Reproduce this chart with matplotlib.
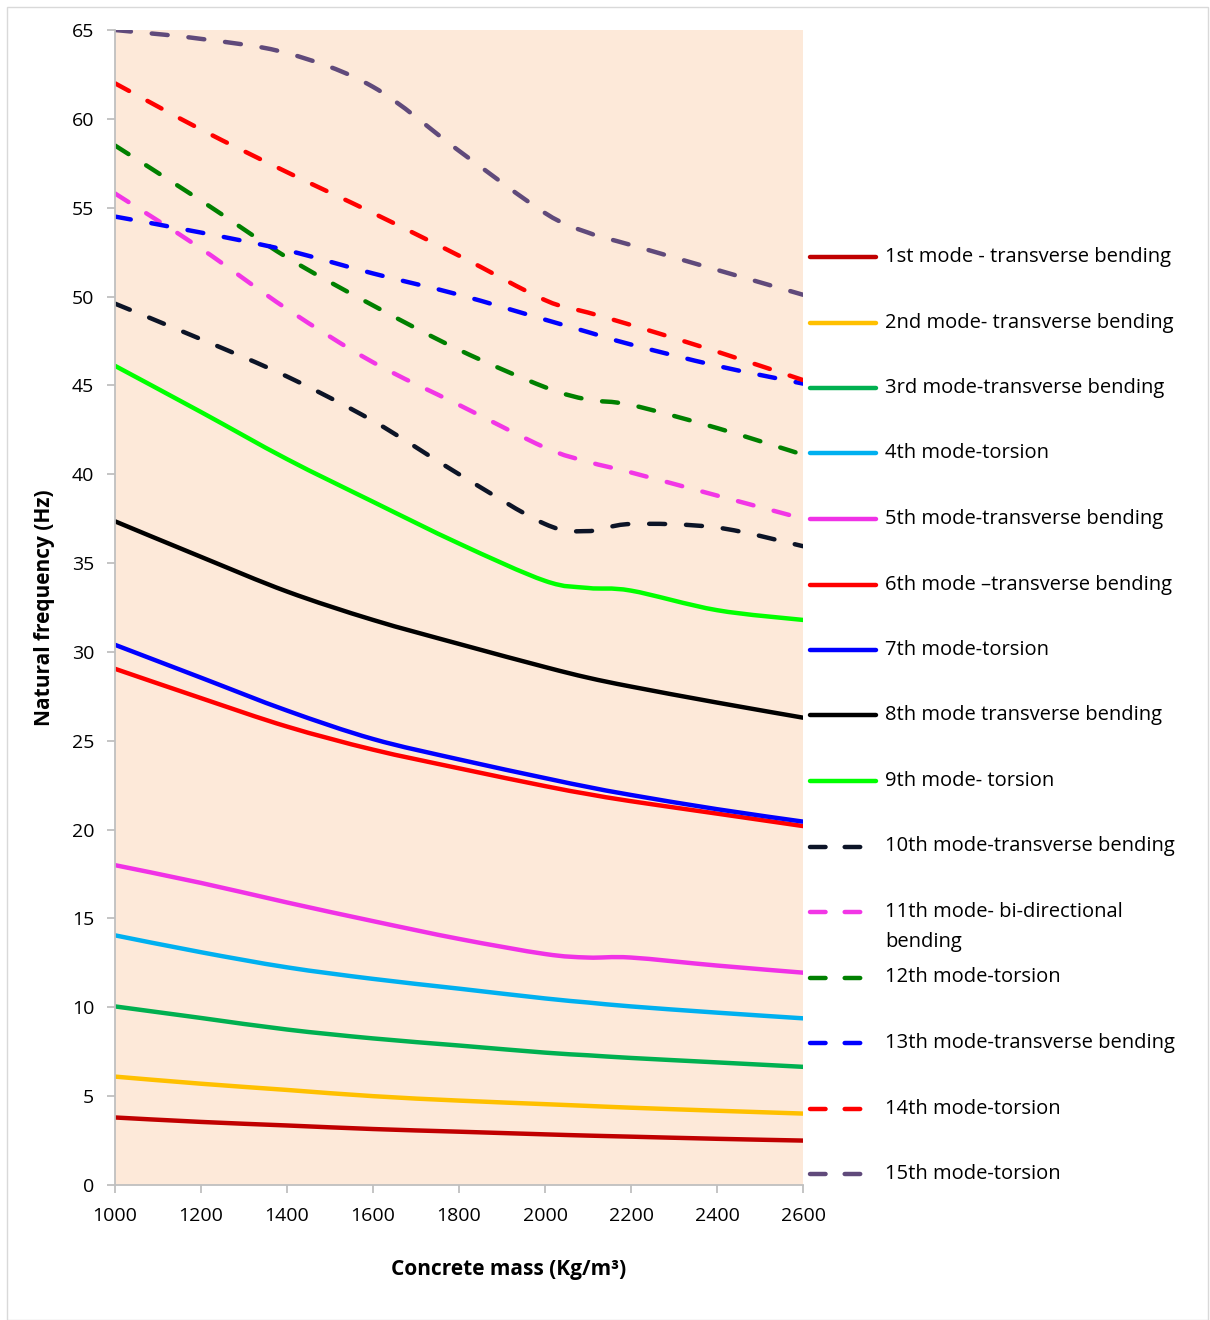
import matplotlib.pyplot as plt
import numpy as np
from matplotlib.path import Path
from matplotlib.patches import PathPatch, Rectangle
from matplotlib.lines import Line2D

plt.rcParams['font.family'] = ['Open Sans', 'DejaVu Sans']

# concrete mass (kg/m3)
mass = [1000, 1200, 1400, 1600, 1800, 2000, 2100, 2200, 2400, 2600]

mode1 = [3.8, 3.55, 3.35, 3.15, 3.0, 2.85, 2.78, 2.72, 2.6, 2.5]
mode2 = [6.1, 5.7, 5.35, 5.0, 4.75, 4.55, 4.45, 4.35, 4.18, 4.02]
mode3 = [10.05, 9.4, 8.75, 8.25, 7.85, 7.45, 7.3, 7.15, 6.9, 6.65]
mode4 = [14.05, 13.1, 12.25, 11.6, 11.05, 10.5, 10.27, 10.05, 9.7, 9.38]
mode5 = [18.0, 17.0, 15.9, 14.85, 13.85, 13.0, 12.8, 12.8, 12.35, 11.95]
mode6 = [29.05, 27.4, 25.8, 24.5, 23.45, 22.45, 22.0, 21.6, 20.9, 20.2]
mode7 = [30.4, 28.55, 26.7, 25.1, 23.95, 22.9, 22.4, 21.95, 21.15, 20.45]
mode8 = [37.35, 35.35, 33.4, 31.8, 30.45, 29.15, 28.55, 28.05, 27.15, 26.3]
mode9 = [46.1, 43.5, 40.85, 38.45, 36.1, 34.0, 33.6, 33.45, 32.35, 31.8]
mode10 = [49.6, 47.6, 45.5, 43.0, 40.0, 37.2, 36.8, 37.2, 37.0, 35.95]
mode11 = [55.8, 52.7, 49.3, 46.3, 43.9, 41.5, 40.7, 40.1, 38.8, 37.5]
mode12 = [58.5, 55.4, 52.2, 49.5, 47.0, 44.9, 44.2, 43.9, 42.6, 41.1]
mode13 = [54.5, 53.6, 52.6, 51.3, 50.1, 48.7, 48.0, 47.3, 46.1, 45.1]
mode14 = [62.0, 59.4, 57.0, 54.7, 52.3, 49.8, 49.1, 48.4, 46.9, 45.3]
mode15 = [65.0, 64.5, 63.7, 61.8, 58.2, 54.7, 53.6, 52.9, 51.5, 50.1]

labels = ["1st mode - transverse bending", "2nd mode- transverse bending",
          "3rd mode-transverse bending", "4th mode-torsion",
          "5th mode-transverse bending", "6th mode \u2013transverse bending",
          "7th mode-torsion", "8th mode transverse bending", "9th mode- torsion",
          "10th mode-transverse bending", "11th mode- bi-directional\nbending",
          "12th mode-torsion", "13th mode-transverse bending", "14th mode-torsion",
          "15th mode-torsion"]
series = [mode1, mode2, mode3, mode4, mode5, mode6, mode7, mode8, mode9, mode10,
          mode11, mode12, mode13, mode14, mode15]
colors = ['#C00000', '#FFC000', '#00B050', '#00B0F0', '#F032E6', '#FF0000',
          '#0000FF', '#000000', '#00FF00', '#0C1427', '#F236E6', '#008000',
          '#0000FF', '#FF0000', '#604A7B']
dashed = [False] * 9 + [True] * 6
dash = (0, (3.6, 4.7))


def smooth_path(xs, ys):
    # excel-style smoothed line as cubic bezier segments
    p = np.column_stack([xs, ys]).astype(float)
    verts = [p[0]]
    codes = [Path.MOVETO]
    n = len(p)
    for i in range(n - 1):
        p0 = p[i - 1] if i > 0 else p[i]
        p3 = p[i + 2] if i + 2 < n else p[i + 1]
        c1 = p[i] + (p[i + 1] - p0) / 6
        c2 = p[i + 1] - (p3 - p[i]) / 6
        verts += [c1, c2, p[i + 1]]
        codes += [Path.CURVE4] * 3
    return Path(verts, codes)


fig = plt.figure(figsize=(12.1, 13.2), dpi=100)
fig.patches.append(Rectangle((7 / 1210, 0), 1201 / 1210, 1313 / 1320, transform=fig.transFigure,
                             fill=False, edgecolor='#D9D9D9', lw=1))
ax = fig.add_axes([115 / 1210, 1 - 1185 / 1320, 688 / 1210, 1155 / 1320])
ax.set_facecolor('#FDE9D9')

for ys, c, d in zip(series, colors, dashed):
    patch = PathPatch(smooth_path(mass, ys), fill=False, edgecolor=c, lw=3.2,
                      capstyle='round', joinstyle='round')
    if d:
        patch.set_linestyle(dash)
    ax.add_patch(patch)

ax.set_xlim(1000, 2600)
ax.set_ylim(0, 65)
ax.set_xticks(range(1000, 2601, 200))
ax.set_yticks(range(0, 66, 5))
for s in ['top', 'right']:
    ax.spines[s].set_visible(False)
for s in ['left', 'bottom']:
    ax.spines[s].set_color('#BFBFBF')
    ax.spines[s].set_linewidth(1.3)
ax.tick_params(axis='both', color='#BFBFBF', length=6, width=1.3, labelsize=14)
ax.tick_params(axis='x', pad=10)
ax.tick_params(axis='y', pad=9)

ax.set_ylabel("Natural frequency (Hz)", fontsize=15, fontweight='bold', labelpad=12)
fig.text(509 / 1210, 1 - 1269 / 1320, "Concrete mass (Kg/m\u00b3)", fontsize=15,
         fontweight='bold', ha='center', va='center')

# legend on the right
for i, (lab, c, d) in enumerate(zip(labels, colors, dashed)):
    yc = 1 - (257 + i * 65.5) / 1320
    ln = Line2D([810 / 1210, 876 / 1210], [yc, yc], transform=fig.transFigure,
                color=c, lw=3.2, solid_capstyle='round', dash_capstyle='round')
    if d:
        ln.set_linestyle((0, (3.5, 4.3)))
    fig.add_artist(ln)
    for j, part in enumerate(lab.split('\n')):
        fig.text(885 / 1210, yc - j * 30 / 1320, part, fontsize=14.5, va='center', ha='left')

fig.savefig('out.png', dpi=100)
